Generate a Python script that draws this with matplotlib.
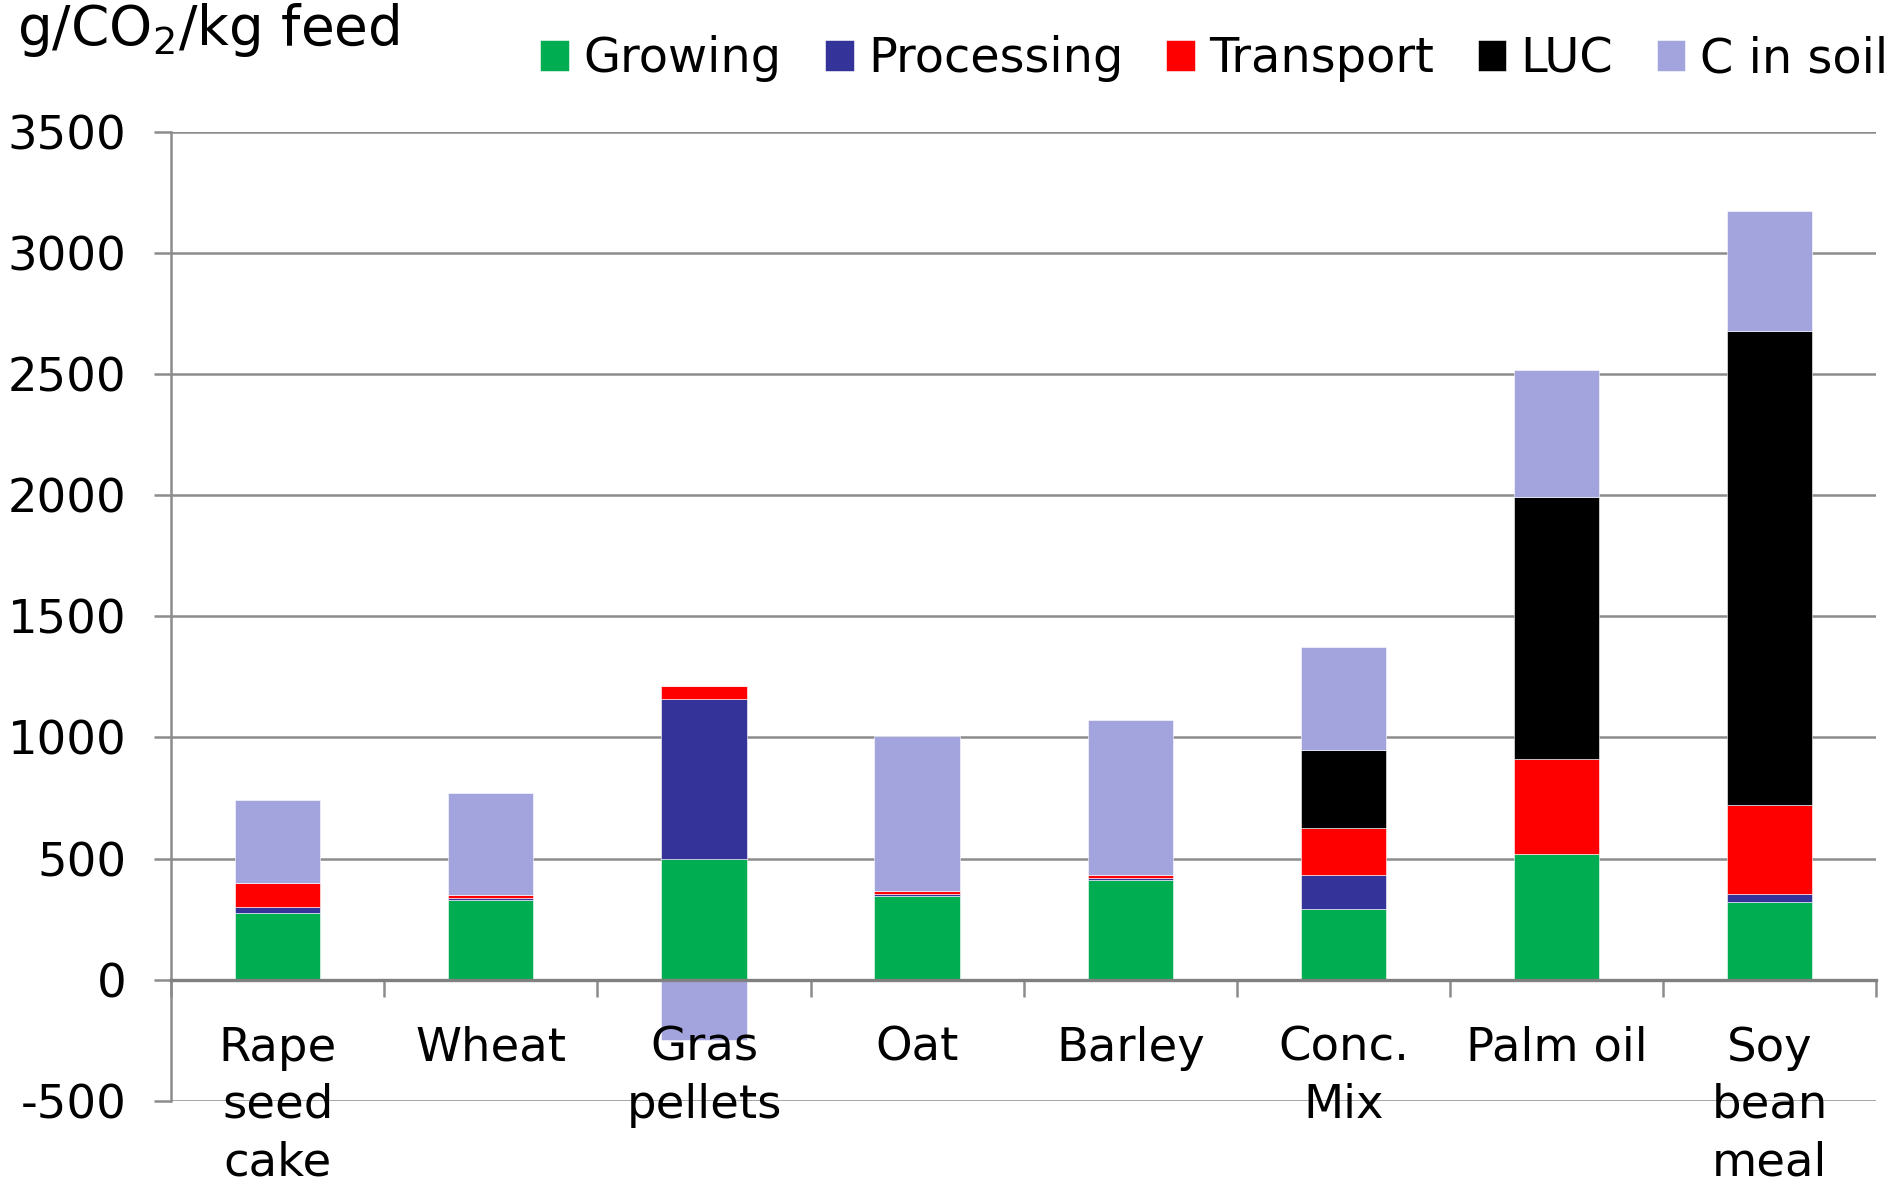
import matplotlib
matplotlib.use("Agg")
import matplotlib.pyplot as plt
import numpy as np

categories = ["Rape\nseed\ncake", "Wheat", "Gras\npellets", "Oat", "Barley",
              "Conc.\nMix", "Palm oil", "Soy\nbean\nmeal"]
series_names = ["Growing", "Processing", "Transport", "LUC", "C in soil"]
growing    = [275, 327, 500, 344, 411, 290, 518, 319]
processing = [23, 10, 658, 8, 8, 142, 0, 35]
transport  = [103, 14, 53, 15, 15, 196, 394, 368]
luc        = [0, 0, 0, 0, 0, 319, 1078, 1955]
c_in_soil  = [341, 419, -247, 637, 636, 425, 527, 495]
yticks = [-500, 0, 500, 1000, 1500, 2000, 2500, 3000, 3500]

colors = ["#00AD50", "#333399", "#FF0000", "#000000", "#A3A3DE"]
series = [growing, processing, transport, luc, c_in_soil]

FS = 33.5
plt.rcParams['font.family'] = ['DejaVu Sans']
fig = plt.figure(figsize=(19.01, 11.85), dpi=100)
ax = fig.add_axes([0.090, 0.071, 0.897, 0.818])

x = np.arange(len(categories))
pos_bottom = np.zeros(len(categories))
neg_bottom = np.zeros(len(categories))
for name, vals, col in zip(series_names, series, colors):
    vals = np.array(vals, dtype=float)
    bottoms = np.where(vals >= 0, pos_bottom, neg_bottom)
    ax.bar(x, vals, width=0.4, bottom=bottoms, color=col, label=name,
           edgecolor='white', linewidth=0.4, zorder=3)
    pos_bottom += np.where(vals > 0, vals, 0)
    neg_bottom += np.where(vals < 0, vals, 0)

ax.set_xlim(-0.5, len(categories) - 0.5)
ax.set_ylim(-500, 3500)
ax.set_yticks(yticks)
ax.set_yticklabels([str(v) for v in yticks], fontsize=FS)
ax.yaxis.grid(True, color='#8C8C8C', linewidth=1.8, zorder=0)
ax.tick_params(axis='y', length=12, width=1.8, color='#8C8C8C', pad=20)

for s in ['top', 'right']:
    ax.spines[s].set_visible(False)
ax.spines['left'].set_color('#8C8C8C')
ax.spines['left'].set_linewidth(1.8)
ax.spines['bottom'].set_position(('data', 0))
ax.spines['bottom'].set_color('#808080')
ax.spines['bottom'].set_linewidth(2.4)
ax.spines['bottom'].set_zorder(4)

ax.set_xticks(np.arange(len(categories) + 1) - 0.5)
ax.set_xticklabels([])
ax.tick_params(axis='x', length=12, width=1.8, color='#8C8C8C', direction='out')

for i, lab in enumerate(categories):
    ax.annotate(lab, xy=(i, 0), xytext=(0, -33), textcoords='offset points',
                ha='center', va='top', fontsize=FS, linespacing=1.35,
                annotation_clip=False, zorder=5)

leg = ax.legend(loc='center right', bbox_to_anchor=(1.018, 1.075), ncol=5,
                frameon=False, fontsize=34.5, handlelength=0.6, handleheight=0.6,
                handletextpad=0.3, columnspacing=0.9, borderaxespad=0)

fig.text(0.009, 1 - 25 / 977, "g/CO$_2$/kg feed", fontsize=39.5, va='center', ha='left')

fig.savefig("out.png", dpi=100)
